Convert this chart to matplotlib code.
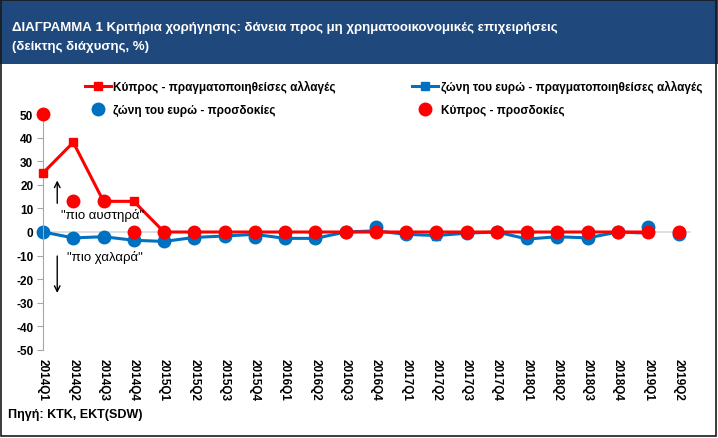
import matplotlib.pyplot as plt
from matplotlib.patches import Rectangle

plt.rcParams['font.family'] = ['Liberation Sans', 'DejaVu Sans']
plt.rcParams['axes.unicode_minus'] = False

quarters = ['2014Q1', '2014Q2', '2014Q3', '2014Q4', '2015Q1', '2015Q2', '2015Q3', '2015Q4',
            '2016Q1', '2016Q2', '2016Q3', '2016Q4', '2017Q1', '2017Q2', '2017Q3', '2017Q4',
            '2018Q1', '2018Q2', '2018Q3', '2018Q4', '2019Q1', '2019Q2']

cy_actual = [25, 38, 13, 13, 0, 0, 0, 0, 0, 0, 0, 0, 0, 0, 0, 0, 0, 0, 0, 0, 0, None]
ea_actual = [0, -2.5, -2, -3.5, -4, -2.3, -1.7, -1, -2.7, -2.7, 0, 0.5, -1, -1.5, -0.5, 0,
             -3, -2, -2.5, 0, -0.5, None]
ea_expect = [0, -2.5, -2, -3.5, -4, -2.5, -1.5, -2, -2.5, -2.5, 0, 2, -1, -1, -0.5, 0,
             -2.5, -2, -2.5, 0, 2, -1]
cy_expect = [50, 13, 13, 0, 0, 0, 0, 0, 0, 0, 0, 0, 0, 0, 0, 0, 0, 0, 0, 0, 0, 0]

red = '#FF0000'
blue = '#0070C0'

fig = plt.figure(figsize=(7.18, 4.39), dpi=100)

# header band and frame
fig.patches.append(Rectangle((0, 0.852), 1, 0.148, transform=fig.transFigure,
                             facecolor='#1F497D', edgecolor='none', zorder=0))
fig.patches.append(Rectangle((0.002, 0.004), 0.995, 0.994, transform=fig.transFigure,
                             facecolor='none', edgecolor='#1a1a1a', lw=1.2, zorder=1))
fig.text(0.017, 0.937, 'ΔΙΑΓΡΑΜΜΑ 1 Κριτήρια χορήγησης: δάνεια προς μη χρηματοοικονομικές επιχειρήσεις',
         color='white', fontsize=9.5, fontweight='bold', va='center')
fig.text(0.017, 0.894, '(δείκτης διάχυσης, %)',
         color='white', fontsize=9.5, fontweight='bold', va='center')

ax = fig.add_axes([0.0599, 0.2005, 0.902, 0.5375])
x = list(range(len(quarters)))

ax.axhline(0, color='#D9D9D9', lw=1.2, zorder=1)
l1, = ax.plot(x, cy_actual, color=red, lw=2.2, marker='s', ms=6, zorder=3, clip_on=False,
              label='Κύπρος - πραγματοποιηθείσες αλλαγές')
l2, = ax.plot(x, ea_actual, color=blue, lw=2.2, marker='s', ms=6, zorder=2, clip_on=False,
              label='ζώνη του ευρώ - πραγματοποιηθείσες αλλαγές')
l3, = ax.plot(x, ea_expect, color=blue, lw=0, marker='o', ms=9, zorder=2.5, clip_on=False,
              label='ζώνη του ευρώ - προσδοκίες')
l4, = ax.plot(x, cy_expect, color=red, lw=0, marker='o', ms=9, zorder=4, clip_on=False,
              label='Κύπρος - προσδοκίες')

ax.set_xlim(0, 21.4)
ax.set_ylim(-50, 50)
ax.set_yticks(range(-50, 51, 10))
ax.set_xticks(x)
ax.set_xticklabels(quarters, rotation=-90, fontsize=8.5, fontweight='bold')
ax.tick_params(axis='x', length=0, pad=6)
ax.tick_params(axis='y', length=4, color='#A6A6A6', labelsize=8.5, pad=3)
for lab in ax.get_yticklabels():
    lab.set_fontweight('bold')
for s in ['top', 'right', 'bottom']:
    ax.spines[s].set_visible(False)
ax.spines['left'].set_color('#A6A6A6')

# direction hints
ax.annotate('', xy=(0.47, 23), xytext=(0.47, 11),
            arrowprops=dict(arrowstyle='->', color='black', lw=1))
ax.text(0.6, 7.5, '"πιο αυστηρά"', fontsize=9.5, va='center')
ax.annotate('', xy=(0.47, -27), xytext=(0.47, -9),
            arrowprops=dict(arrowstyle='->', color='black', lw=1))
ax.text(0.8, -10.5, '"πιο χαλαρά"', fontsize=9.5, va='center')

fig.legend([l1, l3, l2, l4], [h.get_label() for h in [l1, l3, l2, l4]],
           ncol=2, loc='center', bbox_to_anchor=(0.548, 0.775), frameon=False,
           prop={'size': 8.5, 'weight': 'bold'}, handlelength=2.2, columnspacing=6.5,
           labelspacing=0.95, handletextpad=0.2)

fig.text(0.011, 0.054, 'Πηγή: ΚΤΚ, ΕΚΤ(SDW)', fontsize=9, fontweight='bold', va='center')

fig.savefig('out.png', dpi=100)
